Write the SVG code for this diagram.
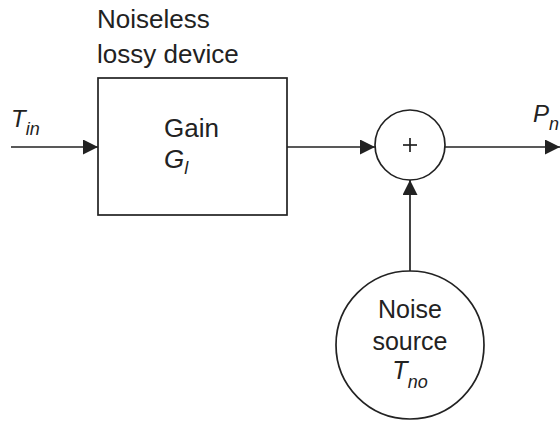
<svg xmlns="http://www.w3.org/2000/svg" width="560" height="421" viewBox="0 0 560 421">
<defs>
<style>
.ln{stroke:#222;stroke-width:1.7;fill:none}
.sh{stroke:#222;stroke-width:1.7;fill:#fff}
.t{font-family:"Liberation Sans",Arial,sans-serif;fill:#222}
.i{font-style:italic}
</style>
<marker id="ah" markerWidth="16" markerHeight="15" refX="15" refY="7.5" orient="auto" markerUnits="userSpaceOnUse">
<path d="M0,0 L15,7.5 L0,15 Z" fill="#222"/>
</marker>
</defs>
<rect width="560" height="421" fill="#fff"/>
<g id="connectors">
<line class="ln" x1="11" y1="147" x2="98" y2="147" marker-end="url(#ah)"/>
<line class="ln" x1="287" y1="147" x2="375" y2="147" marker-end="url(#ah)"/>
<line class="ln" x1="445" y1="147" x2="560" y2="147" marker-end="url(#ah)"/>
<line class="ln" x1="410" y1="271" x2="410" y2="180" marker-end="url(#ah)"/>
</g>
<g id="label-device">
<text class="t" x="97" y="28" font-size="26">Noiseless</text>
<text class="t" x="97" y="63" font-size="26">lossy device</text>
</g>
<g id="node-gain">
<rect class="sh" x="98" y="78" width="189" height="137"/>
<text class="t" x="164" y="137" font-size="26">Gain</text>
<text class="t i" x="164" y="168" font-size="26">G<tspan font-size="18" dy="6">l</tspan></text>
</g>
<g id="label-tin">
<text class="t i" x="11" y="127" font-size="24">T<tspan font-size="18" dy="8">in</tspan></text>
</g>
<g id="node-sum">
<circle class="sh" cx="410" cy="145" r="35"/>
<line class="ln" x1="403" y1="145" x2="417" y2="145" stroke-width="2"/>
<line class="ln" x1="410" y1="138" x2="410" y2="152" stroke-width="2"/>
</g>
<g id="label-pn">
<text class="t i" x="533" y="122" font-size="24">P<tspan font-size="18" dy="8">n</tspan></text>
</g>
<g id="node-noise">
<circle class="sh" cx="410" cy="345" r="74"/>
<text class="t" x="410" y="318" font-size="25" text-anchor="middle">Noise</text>
<text class="t" x="410" y="350" font-size="25" text-anchor="middle">source</text>
<text class="t i" x="410" y="379" font-size="25" text-anchor="middle">T<tspan font-size="18" dy="9">no</tspan></text>
</g>
</svg>
